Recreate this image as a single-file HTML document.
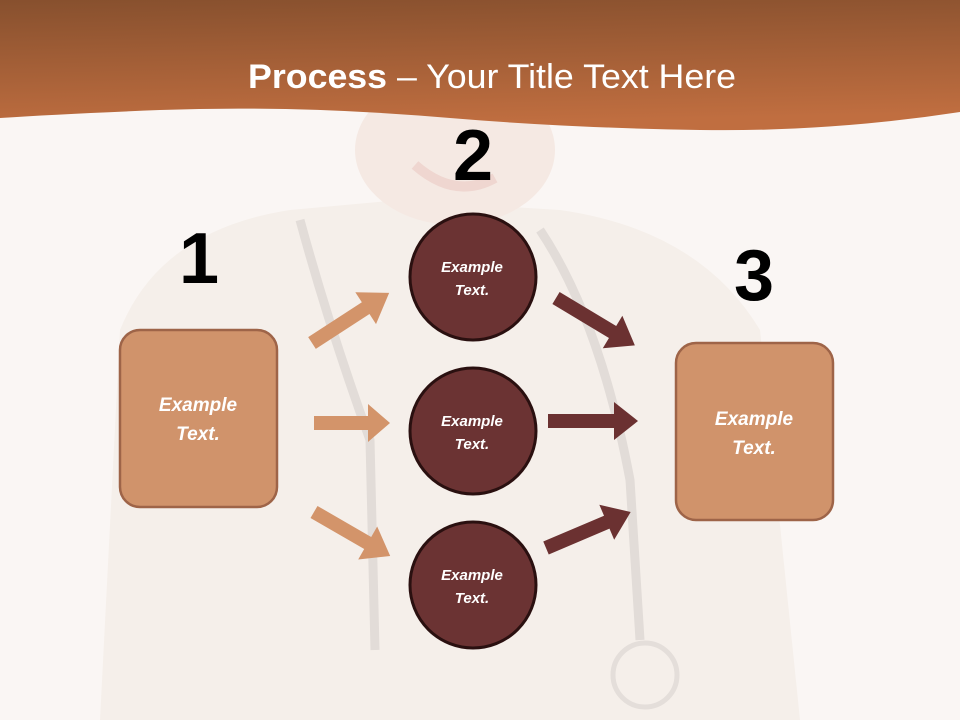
<!DOCTYPE html>
<html><head><meta charset="utf-8"><style>
html,body{margin:0;padding:0;background:#faf6f4;}
svg{display:block}
</style></head><body>
<svg width="960" height="720" viewBox="0 0 960 720" xmlns="http://www.w3.org/2000/svg">
<defs>
<linearGradient id="hd" x1="0" y1="0" x2="0.15" y2="1">
<stop offset="0" stop-color="#87502e"/><stop offset="1" stop-color="#c06e40"/>
</linearGradient>
</defs>
<rect width="960" height="720" fill="#faf6f4"/>
<!-- faint figure -->
<path d="M100 720 L120 330 Q160 230 290 210 L400 200 L560 210 Q700 230 760 330 L800 720 Z" fill="#f5efea"/>
<ellipse cx="455" cy="150" rx="100" ry="75" fill="#f5e9e3"/>
<path d="M415 165 Q455 200 495 178" stroke="#efd6d0" stroke-width="10" fill="none"/>
<path d="M300 220 Q330 330 370 440 L375 650" stroke="#e2dcd8" stroke-width="9" fill="none"/>
<path d="M540 230 Q600 320 630 480 L640 640" stroke="#e2dcd8" stroke-width="9" fill="none"/>
<circle cx="645" cy="675" r="32" fill="none" stroke="#e4deda" stroke-width="5"/>
<!-- header -->
<path d="M0 0 H960 V112 Q830 132 700 130 Q570 128 450 118 Q300 105 160 110 Q60 114 0 118 Z" fill="url(#hd)"/>
<text x="492" y="88" text-anchor="middle" font-family="Liberation Sans, sans-serif" font-size="34" fill="#fff" textLength="488" lengthAdjust="spacingAndGlyphs"><tspan font-weight="bold">Process</tspan> – Your Title Text Here</text>
<!-- numbers -->
<g font-family="Liberation Sans, sans-serif" font-weight="bold" font-size="72" fill="#000" text-anchor="middle">
<text x="199" y="283">1</text>
<text x="473" y="180">2</text>
<text x="754" y="300">3</text>
</g>
<!-- arrows -->
<g fill="#d3946a">
<polygon points="0,-7 64,-7 64,-19 92,0 64,19 64,7 0,7" transform="translate(312,343) rotate(-33)"/>
<polygon points="0,-7 54,-7 54,-19 76,0 54,19 54,7 0,7" transform="translate(314,423)"/>
<polygon points="0,-7 62,-7 62,-19 88,0 62,19 62,7 0,7" transform="translate(314,512) rotate(30)"/>
</g>
<g fill="#6b3131">
<polygon points="0,-7 66,-7 66,-19 92,0 66,19 66,7 0,7" transform="translate(556,298) rotate(31)"/>
<polygon points="0,-7 66,-7 66,-19 90,0 66,19 66,7 0,7" transform="translate(548,421)"/>
<polygon points="0,-7 66,-7 66,-19 92,0 66,19 66,7 0,7" transform="translate(546,548) rotate(-23)"/>
</g>
<!-- circles -->
<g fill="#6b3333" stroke="#2a1010" stroke-width="3">
<circle cx="473" cy="277" r="63"/>
<circle cx="473" cy="431" r="63"/>
<circle cx="473" cy="585" r="63"/>
</g>
<g font-family="Liberation Sans, sans-serif" font-weight="bold" font-style="italic" font-size="15" fill="#fff" text-anchor="middle">
<text x="472" y="272">Example</text><text x="472" y="295">Text.</text>
<text x="472" y="426">Example</text><text x="472" y="449">Text.</text>
<text x="472" y="580">Example</text><text x="472" y="603">Text.</text>
</g>
<!-- boxes -->
<rect x="120" y="330" width="157" height="177" rx="20" fill="#d0936b" stroke="#9e6448" stroke-width="2.5"/>
<rect x="676" y="343" width="157" height="177" rx="20" fill="#d0936b" stroke="#9e6448" stroke-width="2.5"/>
<g font-family="Liberation Sans, sans-serif" font-weight="bold" font-style="italic" font-size="19" fill="#fff" text-anchor="middle">
<text x="198" y="411">Example</text><text x="198" y="440">Text.</text>
<text x="754" y="425">Example</text><text x="754" y="454">Text.</text>
</g>
</svg>
</body></html>
